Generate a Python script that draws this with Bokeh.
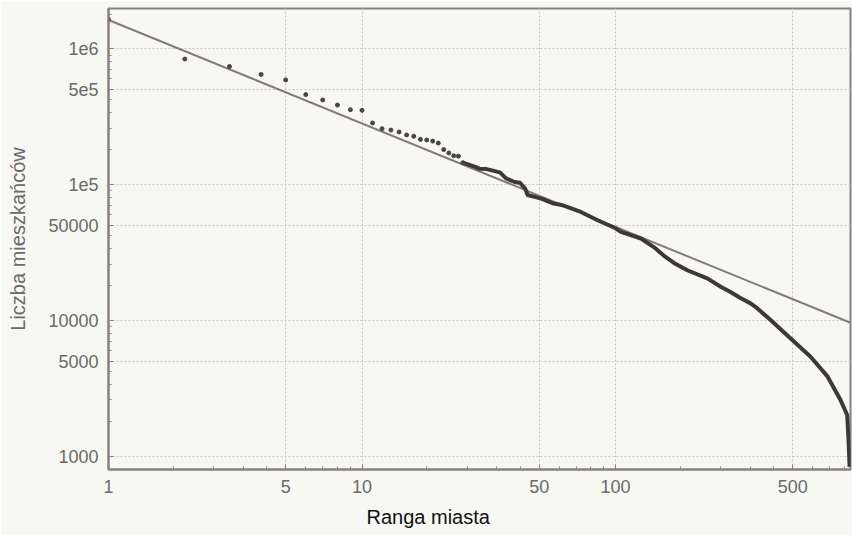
from bokeh.plotting import figure
from bokeh.models import FixedTicker, Title
from bokeh.embed import file_html
from bokeh.resources import INLINE

# --- data ---
# first ranks, drawn as separate dots
rank_dots = list(range(1, 26))
pop_dots = [1.65e6, 8.4e5, 7.4e5, 6.47e5, 5.9e5, 4.6e5, 4.2e5, 3.85e5, 3.56e5, 3.52e5,
            2.84e5, 2.58e5, 2.52e5, 2.44e5, 2.32e5, 2.27e5, 2.15e5, 2.13e5, 2.09e5, 2.02e5,
            1.81e5, 1.71e5, 1.63e5, 1.62e5, 1.45e5]

# dense part of the rank-size curve (points so close they form a line)
rank_curve = [25, 28, 29, 31, 35, 37, 40, 42, 44, 45, 51, 57, 62, 73, 85, 100, 105, 126,
              142, 155, 170, 192, 230, 260, 284, 311, 341, 362, 409, 498, 588, 684, 772,
              820, 830, 838]
pop_curve = [1.45e5, 1.35e5, 1.31e5, 1.30e5, 1.23e5, 1.11e5, 1.045e5, 1.03e5, 9.35e4, 8.38e4,
             7.89e4, 7.25e4, 7.04e4, 6.29e4, 5.46e4, 4.77e4, 4.48e4, 4.01e4,
             3.45e4, 3.0e4, 2.65e4, 2.34e4, 2.04e4, 1.77e4, 1.62e4, 1.46e4, 1.334e4, 1.23e4,
             1.005e4, 7.16e3, 5.40e3, 3.89e3, 2.59e3,
             2.01e3, 1.32e3, 834]

# fitted power-law line (end points)
fit_ranks = [1, 845]
fit_pops = [1.63e6, 9.6e3]

x_ticks = [1, 5, 10, 50, 100, 500]
x_labels = ["1", "5", "10", "50", "100", "500"]
y_ticks = [1000, 5000, 10000, 50000, 100000, 500000, 1000000]
y_labels = ["1000", "5000", "10000", "50000", "1e5", "5e5", "1e6"]

x_title = "Ranga miasta"
y_title = "Liczba mieszkańców"


def linear_minor(major, upper):
    pts = list(major) + [upper]
    out = []
    for a, b in zip(pts[:-1], pts[1:]):
        step = (b - a) / 5.0
        out += [a + step * k for k in range(1, 5)]
    return out


FONT = "Liberation Sans"
AXIS_COL = "#8a7f84"
BG = "#f8f8f2"
TXT = "#6a6a6a"

p = figure(width=852, height=535, x_axis_type="log", y_axis_type="log",
           x_range=(1, 845), y_range=(798, 1.98e6),
           output_backend="svg", toolbar_location=None,
           min_border_left=108, min_border_right=2, min_border_top=8, min_border_bottom=66)
p.background_fill_color = BG
p.border_fill_color = BG
p.outline_line_color = AXIS_COL
p.outline_line_width = 2

p.xaxis.ticker = FixedTicker(ticks=x_ticks, minor_ticks=linear_minor(x_ticks, 1000))
p.yaxis.ticker = FixedTicker(ticks=y_ticks, minor_ticks=linear_minor(y_ticks, 5000000))
p.xaxis.major_label_overrides = {float(t): l for t, l in zip(x_ticks, x_labels)}
p.yaxis.major_label_overrides = {float(t): l for t, l in zip(y_ticks, y_labels)}

for ax in (p.xaxis[0], p.yaxis[0]):
    ax.axis_line_color = AXIS_COL
    ax.axis_line_width = 2
    ax.major_tick_in = 5
    ax.major_tick_out = 0
    ax.minor_tick_in = 3
    ax.minor_tick_out = 0
    ax.major_tick_line_color = AXIS_COL
    ax.minor_tick_line_color = AXIS_COL
    ax.major_label_text_font = FONT
    ax.major_label_text_font_size = "18px"
    ax.major_label_text_color = TXT
    ax.major_label_standoff = 10

p.yaxis.axis_label = y_title
p.yaxis.axis_label_text_font = FONT
p.yaxis.axis_label_text_font_size = "20px"
p.yaxis.axis_label_text_font_style = "normal"
p.yaxis.axis_label_text_color = TXT
p.yaxis.axis_label_standoff = 16

p.add_layout(Title(text=x_title, align="left", offset=258, standoff=16, text_font=FONT,
                   text_font_size="20px", text_font_style="normal",
                   text_color="#111111"), "below")

p.grid.grid_line_color = "#c6c6c0"
p.grid.grid_line_dash = "2 2"
p.grid.grid_line_width = 1

p.line(fit_ranks, fit_pops, line_color="#86797e", line_width=2)
p.line(rank_curve, pop_curve, line_color="#3e3838", line_width=4, line_join="round")
p.scatter(rank_dots, pop_dots, size=4, fill_color="#4a4444", line_color="#4a4444")

open("out.html", "w").write(file_html(p, INLINE))
